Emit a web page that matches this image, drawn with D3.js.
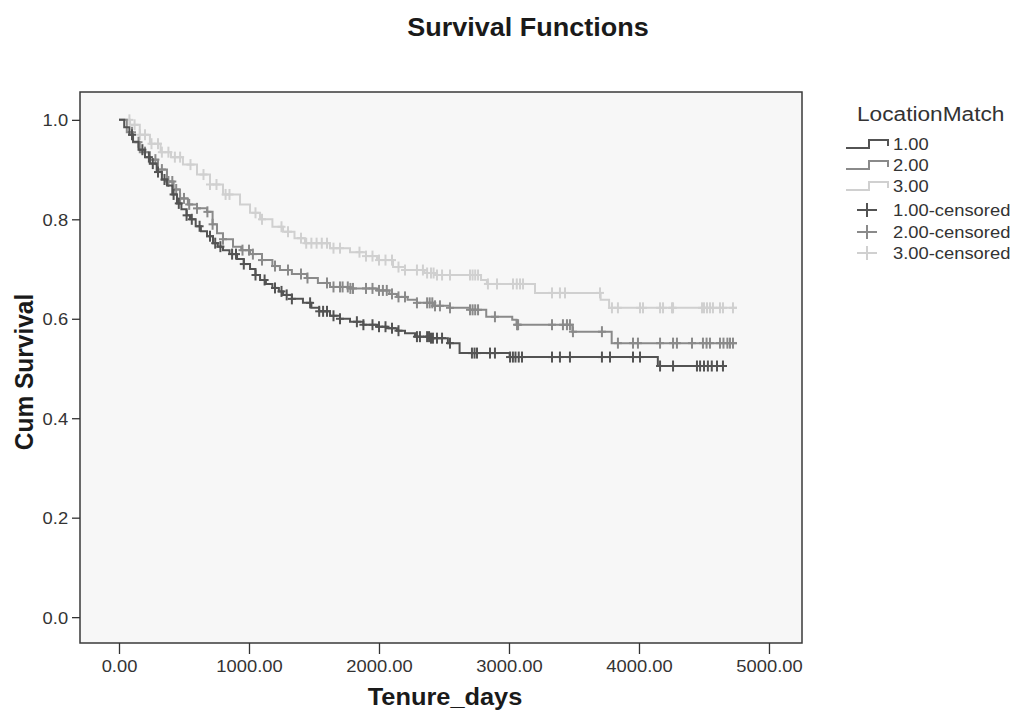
<!DOCTYPE html>
<html><head><meta charset="utf-8">
<script src="https://cdn.jsdelivr.net/npm/d3@7"></script>
<style>
html,body{margin:0;padding:0;background:#fff;}
svg text{font-family:"Liberation Sans",Arial,sans-serif;}
</style></head>
<body>
<svg id="chart" width="1024" height="715"></svg>
<script>
// ---------- DATA ----------
const title = "Survival Functions";
const xLabel = "Tenure_days";
const yLabel = "Cum Survival";
const legendTitle = "LocationMatch";
const groups = ["1.00", "2.00", "3.00"];
const xTicks = [0, 1000, 2000, 3000, 4000, 5000];
const yTicks = [0.0, 0.2, 0.4, 0.6, 0.8, 1.0];

// Kaplan-Meier steps: [time, survival after event]
const steps1 = [[0,1.0],[40,0.985],[80,0.97],[108,0.956],[150,0.94],[200,0.925],[238,0.912],[290,0.895],[330,0.88],[369,0.868],[410,0.85],[446,0.832],[480,0.82],[520,0.808],[546,0.8],[590,0.786],[630,0.776],[677,0.766],[723,0.752],[760,0.745],[800,0.738],[850,0.73],[908,0.72],[960,0.71],[1008,0.7],[1050,0.688],[1085,0.678],[1130,0.67],[1180,0.662],[1230,0.655],[1262,0.648],[1330,0.64],[1415,0.632],[1480,0.622],[1540,0.615],[1623,0.606],[1700,0.6],[1777,0.594],[1880,0.588],[1985,0.584],[2060,0.581],[2138,0.576],[2200,0.571],[2277,0.564],[2400,0.561],[2530,0.551],[2620,0.531],[3005,0.523],[4145,0.505]];
const steps2 = [[0,1.0],[60,0.975],[108,0.955],[160,0.935],[238,0.92],[300,0.9],[369,0.876],[420,0.86],[469,0.842],[530,0.83],[600,0.822],[677,0.815],[720,0.79],[754,0.772],[800,0.76],[877,0.745],[940,0.738],[1008,0.73],[1100,0.718],[1180,0.706],[1238,0.698],[1330,0.69],[1446,0.682],[1530,0.672],[1623,0.664],[1780,0.661],[1985,0.657],[2080,0.65],[2138,0.644],[2220,0.638],[2292,0.632],[2415,0.626],[2546,0.622],[2700,0.618],[2825,0.604],[3025,0.598],[3058,0.588],[3488,0.574],[3790,0.551]];
const steps3 = [[0,1.0],[85,0.99],[160,0.97],[238,0.952],[320,0.935],[400,0.925],[492,0.91],[600,0.89],[700,0.87],[800,0.85],[931,0.83],[1008,0.813],[1085,0.8],[1180,0.785],[1262,0.775],[1350,0.762],[1431,0.752],[1623,0.742],[1777,0.734],[1900,0.726],[1985,0.718],[2108,0.704],[2200,0.698],[2350,0.692],[2446,0.688],[2785,0.678],[2830,0.670],[3200,0.652],[3705,0.638],[3770,0.622]];

// censored times
const cens1 = [100,180,230,260,300,350,420,460,520,560,620,700,740,780,870,900,960,1050,1120,1200,1250,1290,1330,1470,1540,1570,1600,1650,1700,1830,1880,1950,2000,2050,2100,2150,2292,2315,2370,2385,2400,2415,2446,2485,2546,2715,2735,2754,2854,2892,3008,3030,3050,3075,3100,3331,3392,3469,3715,3777,3954,4008,4162,4262,4446,4470,4500,4530,4560,4600,4646];
const cens2 = [100,150,200,280,330,380,410,440,470,500,540,600,680,720,800,950,1000,1030,1100,1200,1300,1400,1450,1600,1650,1700,1720,1760,1780,1800,1900,1950,2000,2030,2060,2100,2150,2200,2292,2370,2390,2410,2431,2469,2546,2700,2720,2740,2762,2892,3062,3070,3331,3415,3446,3469,3492,3715,3838,3954,3992,4162,4262,4292,4408,4492,4520,4546,4623,4650,4680,4700,4723];
const cens3 = [80,120,160,200,250,300,330,380,430,470,550,650,700,750,820,850,1050,1100,1250,1300,1400,1440,1480,1520,1560,1600,1650,1700,1850,1900,1950,2000,2050,2100,2150,2200,2292,2338,2370,2400,2420,2446,2485,2546,2700,2720,2740,2762,2838,2908,3031,3060,3085,3108,3331,3392,3431,3700,3792,3838,4008,4031,4162,4185,4254,4262,4485,4500,4523,4546,4569,4623,4646,4723];
const ends = [4677, 4754, 4754];

// ---------- CHART ----------
const colors = ["#535353", "#8a8a8a", "#d0d0d0"];
const SX = 1.08;
const svg = d3.select("#chart");
const x = d3.scaleLinear().domain([-300, 5254]).range([80, 802]);
const y = d3.scaleLinear().domain([-0.052, 1.056]).range([643, 92]);

function txt(px, py, str, size, opts = {}) {
  const t = svg.append("text")
    .attr("transform", `translate(${px},${py}) scale(${SX},1)`)
    .attr("font-size", size).attr("fill", opts.fill || "#333")
    .attr("text-anchor", opts.anchor || "start")
    .text(str);
  if (opts.bold) t.attr("font-weight", "bold");
  return t;
}

txt(528, 36, title, 25, {anchor: "middle", bold: true, fill: "#1a1a1a"});

svg.append("rect").attr("x", 80).attr("y", 92).attr("width", 722).attr("height", 551)
  .attr("fill", "#f7f7f7").attr("stroke", "#3a3a3a").attr("stroke-width", 1.5);

// axes
const xAxis = svg.append("g").attr("transform", "translate(0,643)")
  .call(d3.axisBottom(x).tickValues(xTicks).tickSize(11).tickSizeOuter(0).tickFormat(d3.format(".2f")));
xAxis.select(".domain").remove();
xAxis.selectAll("line").attr("stroke", "#333").attr("stroke-width", 1.3);
xAxis.selectAll("text").attr("font-size", 17).attr("fill", "#333").attr("y", 17).attr("dy", "0.71em")
  .attr("transform", `scale(${SX},1)`)
  .style("font-family", "'Liberation Sans',Arial,sans-serif");

const yAxis = svg.append("g").attr("transform", "translate(80,0)")
  .call(d3.axisLeft(y).tickValues(yTicks).tickSize(8).tickSizeOuter(0).tickFormat(d3.format(".1f")));
yAxis.select(".domain").remove();
yAxis.selectAll("line").attr("stroke", "#333").attr("stroke-width", 1.3);
yAxis.selectAll("text").attr("font-size", 17).attr("fill", "#333").attr("x", -11).attr("dy", "0.36em")
  .attr("transform", `scale(${SX},1)`)
  .style("font-family", "'Liberation Sans',Arial,sans-serif");

txt(445, 705, xLabel, 23.5, {anchor: "middle", bold: true, fill: "#1a1a1a"});
svg.append("text").attr("transform", `translate(33,372) rotate(-90) scale(1,${SX})`).attr("text-anchor", "middle")
  .attr("font-size", 24.5).attr("font-weight", "bold").attr("fill", "#1a1a1a").text(yLabel);

// curves
const allSteps = [steps1, steps2, steps3];
const allCens = [cens1, cens2, cens3];
const line = d3.line().x(d => x(d[0])).y(d => y(d[1])).curve(d3.curveStepAfter);
function survAt(steps, t) {
  let s = steps[0][1];
  for (const p of steps) { if (p[0] <= t) s = p[1]; else break; }
  return s;
}
[2, 1, 0].forEach(i => {
  const st = allSteps[i];
  const pts = st.concat([[ends[i], st[st.length - 1][1]]]);
  svg.append("path").datum(pts).attr("d", line).attr("fill", "none")
    .attr("stroke", colors[i]).attr("stroke-width", 2);
  const g = svg.append("g").attr("stroke", colors[i]).attr("stroke-width", 2);
  allCens[i].forEach(t => {
    const cx = x(t), cy = y(survAt(st, t));
    g.append("line").attr("x1", cx).attr("x2", cx).attr("y1", cy - 5.5).attr("y2", cy + 5.5);
    g.append("line").attr("x1", cx - 4).attr("x2", cx + 4).attr("y1", cy).attr("y2", cy);
  });
});

// legend
txt(857, 121, legendTitle, 21);
const legY = [144, 165, 186];
groups.forEach((gname, i) => {
  const yy = legY[i];
  svg.append("path").attr("d", `M846,${yy + 4}H869V${yy - 4}H888V${yy + 2}`)
    .attr("fill", "none").attr("stroke", colors[i]).attr("stroke-width", 2);
  txt(893, yy + 6, gname, 17);
});
const legC = [210, 232, 253];
groups.forEach((gname, i) => {
  const yy = legC[i];
  const g = svg.append("g").attr("stroke", colors[i]).attr("stroke-width", 2);
  g.append("line").attr("x1", 867).attr("x2", 867).attr("y1", yy - 7).attr("y2", yy + 7);
  g.append("line").attr("x1", 857).attr("x2", 877).attr("y1", yy).attr("y2", yy);
  txt(893, yy + 6, gname + "-censored", 17);
});
</script>
</body></html>
